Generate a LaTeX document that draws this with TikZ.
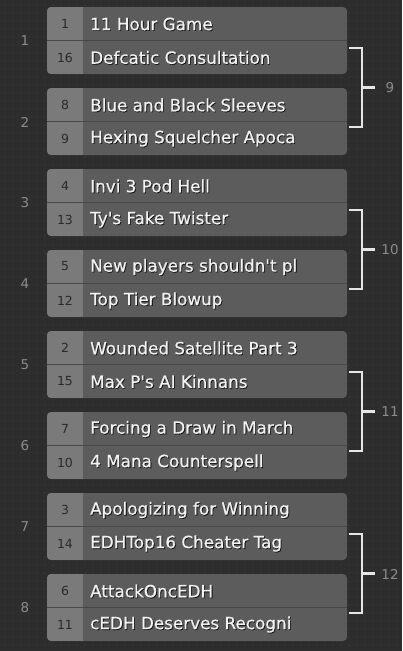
\documentclass[tikz,border=0pt]{standalone}
\usepackage{fontspec}
\setmainfont{DejaVu Sans}
\newfontfamily\namefont{DejaVu Sans}[FakeBold=0.7]
\definecolor{bg}{HTML}{2D2D2D}
\definecolor{dotc}{HTML}{393939}
\definecolor{seedbg}{HTML}{7A7A7A}
\definecolor{namebg}{HTML}{5C5C5C}
\definecolor{sepc}{HTML}{484848}
\definecolor{seedtxt}{HTML}{2A2A2A}
\definecolor{roundtxt}{HTML}{8C8C8C}
\definecolor{brk}{HTML}{E6E6E6}
\newcommand{\Q}{\textquotesingle}
\tikzset{
  nametext/.style={anchor=west, inner sep=0pt, text=white!95!black, font=\namefont\fontsize{16.8}{18}\selectfont},
  nameshadow/.style={anchor=west, inner sep=0pt, text=black, opacity=0.8, font=\namefont\fontsize{16.8}{18}\selectfont},
  seedtext/.style={inner sep=0pt, text=seedtxt, font=\fontsize{12.5}{15}\selectfont},
  roundlbl/.style={inner sep=0pt, text=roundtxt, font=\fontsize{13.5}{16}\selectfont},
  brline/.style={draw=brk, line width=2.6pt},
}
\newcommand{\MatchBox}[6]{%
  % #1 id, #2 top, #3 seedA, #4 nameA, #5 seedB, #6 nameB
  \begin{scope}
    \fill[namebg, rounded corners=4pt] (47,#2) rectangle (347,#2+67);
    \begin{scope}
      \clip[rounded corners=4pt] (47,#2) rectangle (347,#2+67);
      \fill[seedbg] (47,#2) rectangle (83,#2+67);
    \end{scope}
    \draw[sepc, line width=1.6pt] (47,#2+33.5) -- (347,#2+33.5);
    \node[seedtext] (s#1a) at (65,#2+16.5) {#3};
    \node[seedtext] (s#1b) at (65,#2+50.5) {#5};
    \begin{scope}
      \clip (83,#2) rectangle (297,#2+67);
      \node[nameshadow] (h#1a) at (90.8,#2+17.8) {#4};
      \node[nametext] (t#1a) at (90,#2+17) {#4};
      \node[nameshadow] (h#1b) at (90.8,#2+51.3) {#6};
      \node[nametext] (t#1b) at (90,#2+50.5) {#6};
    \end{scope}
    \node[roundlbl] (r#1) at (25,#2+34) {#1};
  \end{scope}}
\newcommand{\Bracket}[3]{%
  % #1 label, #2 top, #3 id
  \coordinate (b#3t) at (349,#2+41);
  \coordinate (b#3tc) at (362,#2+41);
  \coordinate (b#3b) at (349,#2+120);
  \coordinate (b#3bc) at (362,#2+120);
  \coordinate (b#3m) at (362,#2+80.5);
  \coordinate (b#3e) at (375,#2+80.5);
  \draw[brline] (b#3t) -- (b#3tc) -- (b#3bc) -- (b#3b);
  \draw[brline] (b#3m) -- (b#3e);
  \node[roundlbl] (l#3) at (390,#2+81) {#1};}
\begin{document}
\begin{tikzpicture}[x=1pt,y=-1pt]
\useasboundingbox (0,0) rectangle (402,651);
\fill[bg] (0,0) rectangle (402,651);
\foreach \i in {0,...,50}{
  \foreach \j in {0,...,81}{
    \fill[dotc] (5+8*\i,5+8*\j) circle (1);
  }
}
\MatchBox{1}{7}{1}{11 Hour Game}{16}{Defcatic Consultation}
\MatchBox{2}{88}{8}{Blue and Black Sleeves}{9}{Hexing Squelcher Apoca}
\MatchBox{3}{169}{4}{Invi 3 Pod Hell}{13}{Ty\Q s Fake Twister}
\MatchBox{4}{250}{5}{New players shouldn\Q t pl}{12}{Top Tier Blowup}
\MatchBox{5}{331}{2}{Wounded Satellite Part 3}{15}{Max P\Q s AI Kinnans}
\MatchBox{6}{412}{7}{Forcing a Draw in March}{10}{4 Mana Counterspell}
\MatchBox{7}{493}{3}{Apologizing for Winning}{14}{EDHTop16 Cheater Tag}
\MatchBox{8}{574}{6}{AttackOncEDH}{11}{cEDH Deserves Recogni}
\Bracket{9}{7}{1}
\Bracket{10}{169}{2}
\Bracket{11}{331}{3}
\Bracket{12}{493}{4}
\end{tikzpicture}
\end{document}
